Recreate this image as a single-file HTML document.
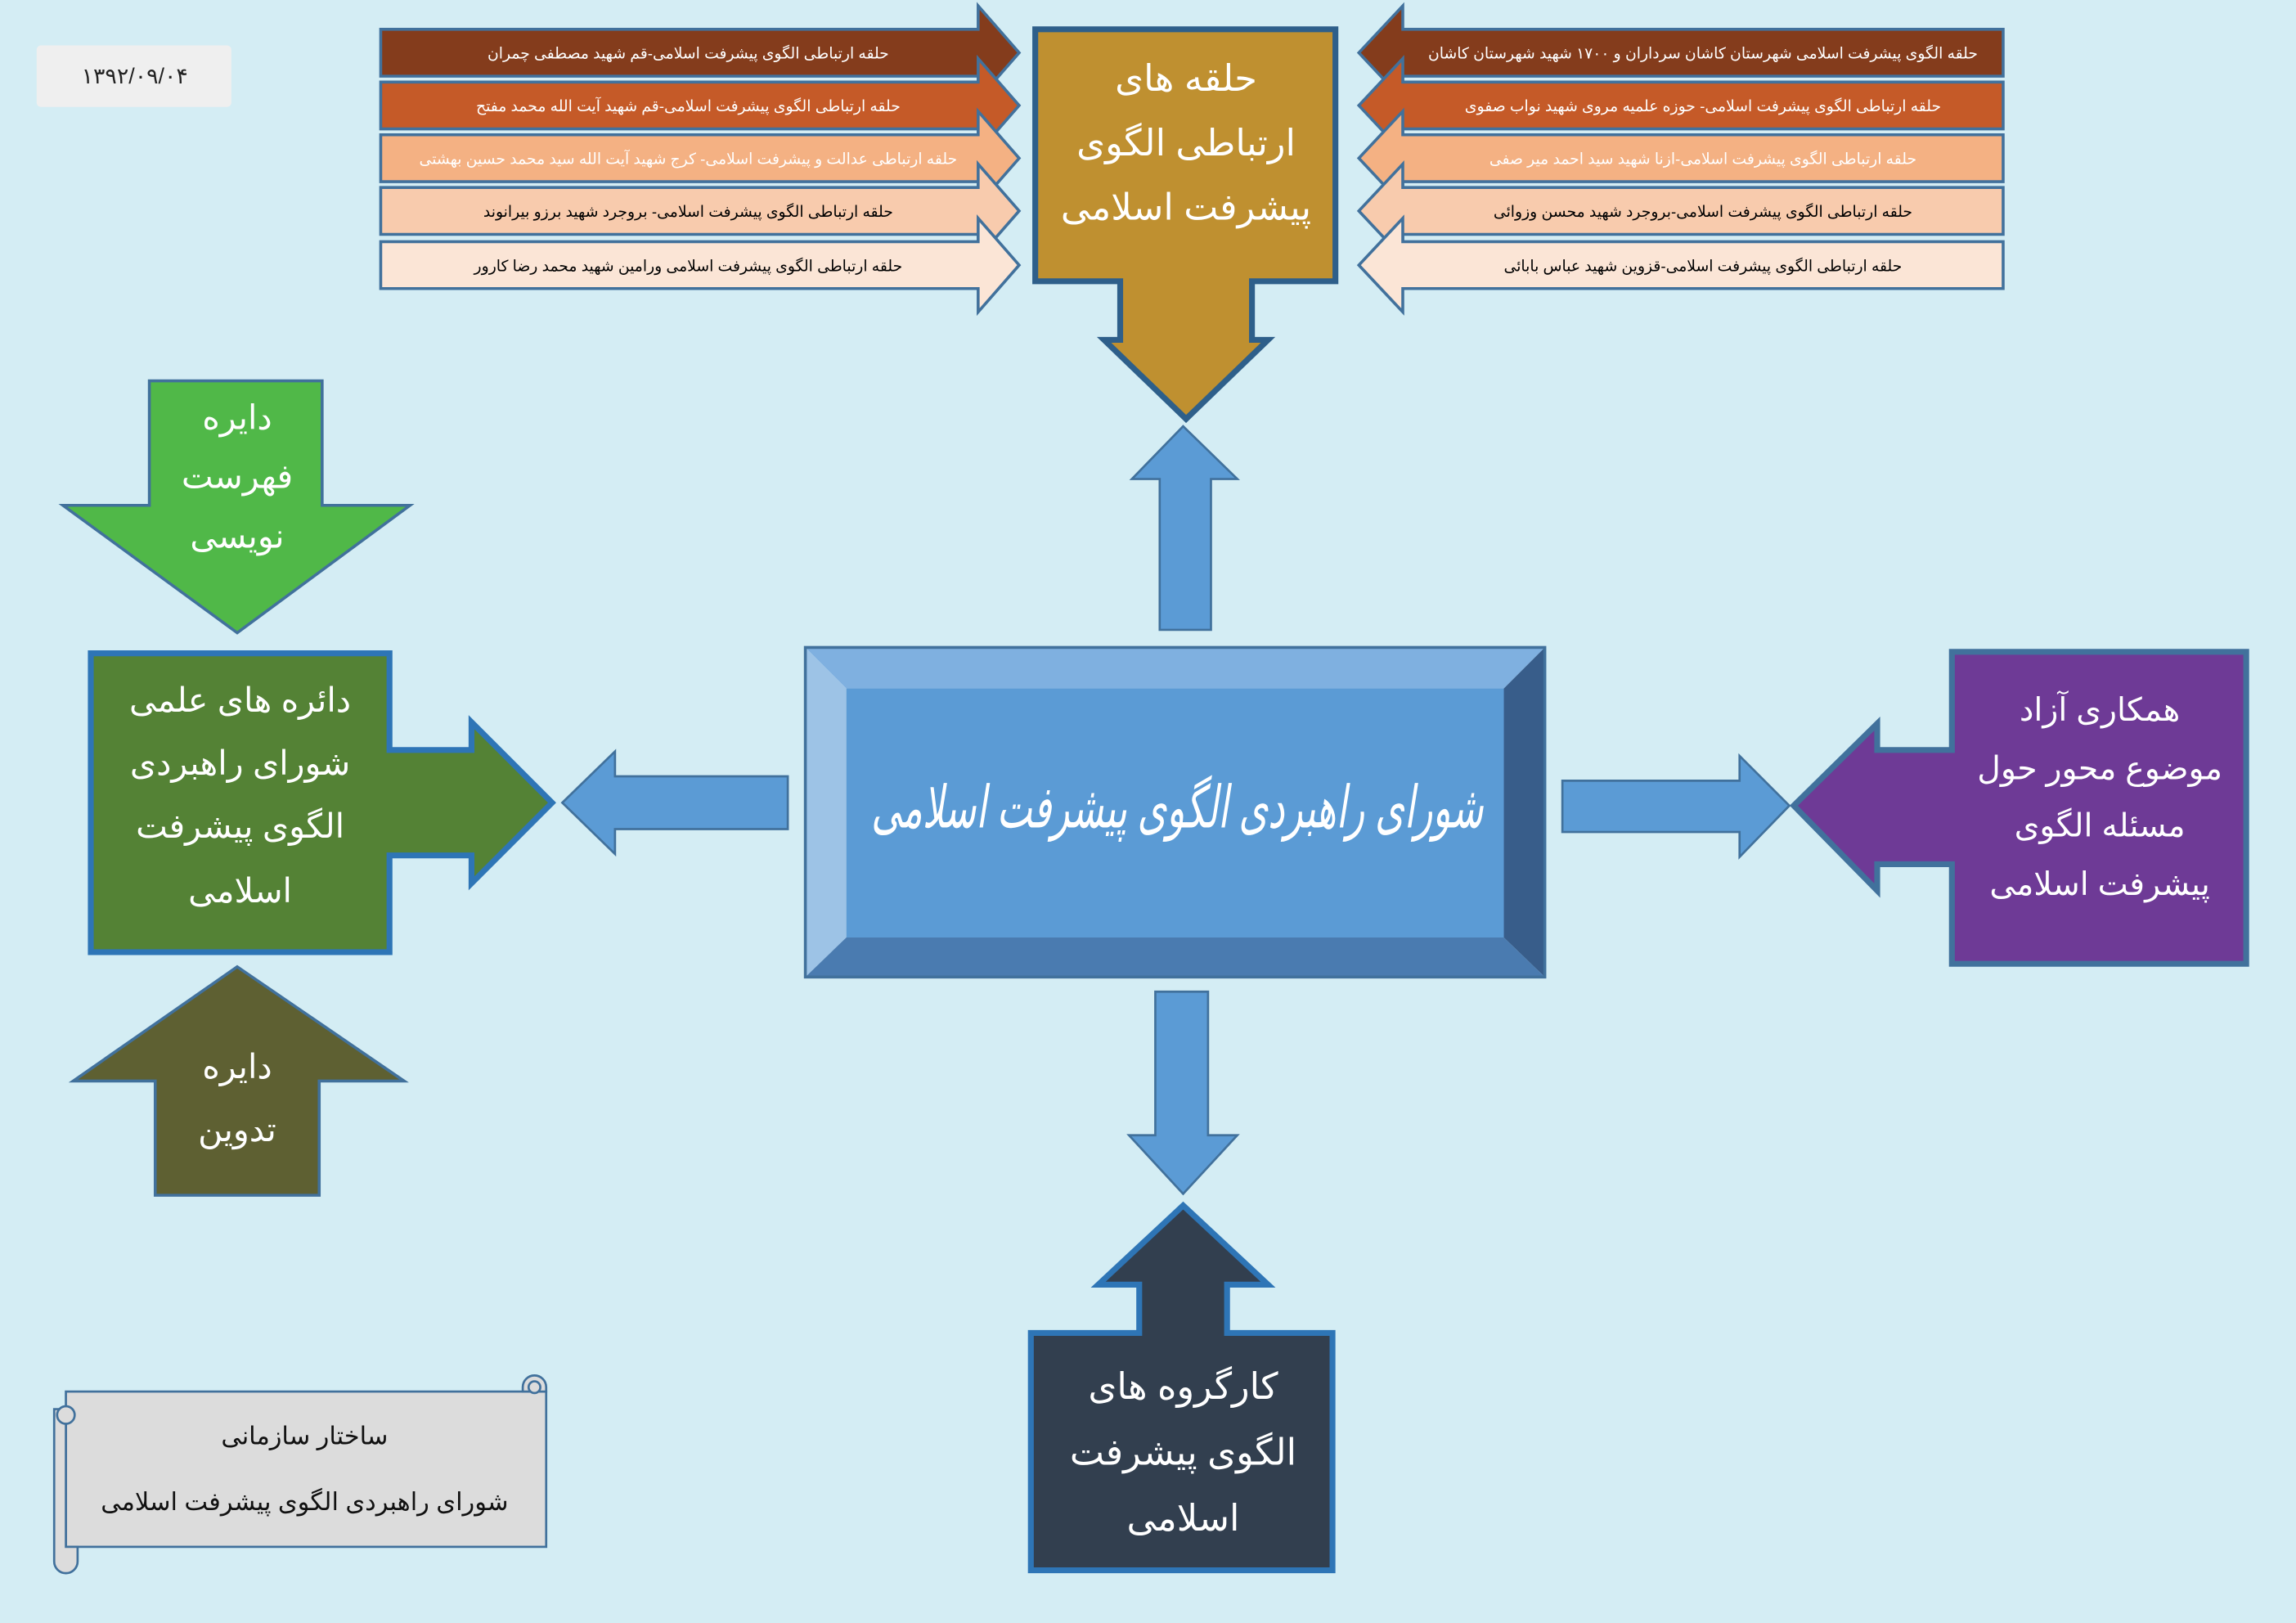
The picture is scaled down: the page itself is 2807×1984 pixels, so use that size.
<!DOCTYPE html>
<html><head><meta charset="utf-8"><style>
html,body{margin:0;padding:0;background:#d4edf4;}
svg{display:block}
text{font-family:"Liberation Sans","DejaVu Sans","Noto Sans CJK SC",sans-serif;text-anchor:middle;direction:rtl}
</style></head><body>
<svg width="2807" height="1984" viewBox="0 0 1568 1108" xmlns="http://www.w3.org/2000/svg" preserveAspectRatio="none">
<rect width="1568" height="1108" fill="#d4edf4"/>
<g stroke="#41719c" stroke-width="2">
<polygon points="260,20 668,20 668,4 696,36 668,68 668,52 260,52" fill="#843c1c"/>
<polygon points="260,56 668,56 668,40 696,72 668,104 668,88 260,88" fill="#c55a28"/>
<polygon points="260,92 668,92 668,76 696,108 668,140 668,124 260,124" fill="#f4b183"/>
<polygon points="260,128 668,128 668,112 696,144 668,176 668,160 260,160" fill="#f8cbad"/>
<polygon points="260,165 668,165 668,149 696,181 668,213 668,197 260,197" fill="#fbe5d6"/>
<polygon points="1368,20 958,20 958,4 928,36 958,68 958,52 1368,52" fill="#843c1c"/>
<polygon points="1368,56 958,56 958,40 928,72 958,104 958,88 1368,88" fill="#c55a28"/>
<polygon points="1368,92 958,92 958,76 928,108 958,140 958,124 1368,124" fill="#f4b183"/>
<polygon points="1368,128 958,128 958,112 928,144 958,176 958,160 1368,160" fill="#f8cbad"/>
<polygon points="1368,165 958,165 958,149 928,181 958,213 958,197 1368,197" fill="#fbe5d6"/>
</g>
<g font-size="10.5">
<text x="470" y="40" fill="#fff">حلقه ارتباطی الگوی پیشرفت اسلامی-قم شهید مصطفی چمران</text>
<text x="470" y="76" fill="#fff">حلقه ارتباطی الگوی پیشرفت اسلامی-قم شهید آیت الله محمد مفتح</text>
<text x="470" y="112" fill="#fff">حلقه ارتباطی عدالت و پیشرفت اسلامی- کرج شهید آیت الله سید محمد حسین بهشتی</text>
<text x="470" y="148" fill="#000">حلقه ارتباطی الگوی پیشرفت اسلامی- بروجرد شهید برزو بیرانوند</text>
<text x="470" y="185" fill="#000">حلقه ارتباطی الگوی پیشرفت اسلامی ورامین شهید محمد رضا کارور</text>
<text x="1163" y="40" fill="#fff">حلقه الگوی پیشرفت اسلامی شهرستان کاشان سرداران و ۱۷۰۰ شهید شهرستان کاشان</text>
<text x="1163" y="76" fill="#fff">حلقه ارتباطی الگوی پیشرفت اسلامی- حوزه علمیه مروی شهید نواب صفوی</text>
<text x="1163" y="112" fill="#fff">حلقه ارتباطی الگوی پیشرفت اسلامی-ازنا شهید سید احمد میر صفی</text>
<text x="1163" y="148" fill="#000">حلقه ارتباطی الگوی پیشرفت اسلامی-بروجرد شهید محسن وزوائی</text>
<text x="1163" y="185" fill="#000">حلقه ارتباطی الگوی پیشرفت اسلامی-قزوین  شهید عباس بابائی</text>
</g>
<polygon points="707,20 912,20 912,192 855,192 855,232 866,232 810,286 754,232 765,232 765,192 707,192" fill="#bf9030" stroke="#2e5f8a" stroke-width="4"/>
<g font-size="25" fill="#fff">
<text x="810" y="62">حلقه های</text>
<text x="810" y="106">ارتباطی الگوی</text>
<text x="810" y="150">پیشرفت اسلامی</text>
</g>
<g fill="#5b9bd5" stroke="#41719c" stroke-width="1.5">
<polygon points="808,291 845,327 827,327 827,430 792,430 792,327 773,327"/>
<polygon points="384,548 420,513 420,530 538,530 538,566 420,566 420,583"/>
<polygon points="1067,533 1188,533 1188,516 1222,550 1188,585 1188,568 1067,568"/>
<polygon points="789,677 825,677 825,775 845,775 808,815 771,775 789,775"/>
</g>
<polygon points="550,442 1055,442 1027,470 578,470" fill="#7fb0e0"/>
<polygon points="550,442 578,470 578,640 550,667" fill="#9dc3e6"/>
<polygon points="1055,442 1055,667 1027,640 1027,470" fill="#385d8a"/>
<polygon points="550,667 578,640 1027,640 1055,667" fill="#4a7bb0"/>
<rect x="578" y="470" width="449" height="170" fill="#5b9bd5"/>
<rect x="550" y="442" width="505" height="225" fill="none" stroke="#41719c" stroke-width="2"/>
<text x="804" y="565" font-size="40" font-style="italic" fill="#fff" textLength="418" lengthAdjust="spacingAndGlyphs">شورای راهبردی الگوی پیشرفت اسلامی</text>
<polygon points="62,446 266,446 266,512 322,512 322,493 377,548 322,603 322,584 266,584 266,650 62,650" fill="#548235" stroke="#2e75b6" stroke-width="4"/>
<g font-size="23" fill="#fff">
<text x="164" y="486">دائره های علمی</text>
<text x="164" y="529">شورای راهبردی</text>
<text x="164" y="572">الگوی پیشرفت</text>
<text x="164" y="616">اسلامی</text>
</g>
<polygon points="102,260 220,260 220,345 280,345 162,432 43,345 102,345" fill="#50b848" stroke="#41719c" stroke-width="2"/>
<g font-size="23" fill="#fff">
<text x="162" y="293">دایره</text>
<text x="162" y="333">فهرست</text>
<text x="162" y="374">نویسی</text>
</g>
<polygon points="162,660 276,738 218,738 218,816 106,816 106,738 50,738" fill="#5e6032" stroke="#41719c" stroke-width="2"/>
<g font-size="23" fill="#fff">
<text x="162" y="736">دایره</text>
<text x="162" y="779">تدوین</text>
</g>
<polygon points="1534,445 1534,658 1333,658 1333,590 1282,590 1282,608 1225,550 1282,494 1282,512 1333,512 1333,445" fill="#6e3a96" stroke="#41719c" stroke-width="4"/>
<g font-size="22" fill="#fff">
<text x="1434" y="492">همکاری آزاد</text>
<text x="1434" y="532">موضوع محور حول</text>
<text x="1434" y="571">مسئله الگوی</text>
<text x="1434" y="611">پیشرفت اسلامی</text>
</g>
<polygon points="808,823 866,877 838,877 838,910 910,910 910,1072 704,1072 704,910 778,910 778,877 750,877" fill="#323f4f" stroke="#2e75b6" stroke-width="4"/>
<g font-size="25" fill="#fff">
<text x="808" y="955">کارگروه های</text>
<text x="808" y="1000">الگوی پیشرفت</text>
<text x="808" y="1045">اسلامی</text>
</g>
<rect x="25" y="31" width="133" height="42" rx="3" fill="#efefef"/>
<text x="92" y="57" font-size="15" fill="#222">۱۳۹۲/۰۹/۰۴</text>
<g stroke="#41719c" stroke-width="1.5" fill="#dcdcdc">
<rect x="45" y="950" width="328" height="106"/>
<path d="M357,950 L357,947 a8,8 0 0 1 16,0 L373,950 Z"/>
<path d="M45,962 L37,962 L37,1066 a8,8 0 0 0 16,0 L53,1056 L45,1056 Z"/>
<circle cx="45" cy="966" r="6"/>
<circle cx="365" cy="947" r="4"/>
</g>
<g font-size="17" fill="#111">
<text x="208" y="986">ساختار سازمانی</text>
<text x="208" y="1031">شورای راهبردی الگوی پیشرفت اسلامی</text>
</g>
</svg>
</body></html>
